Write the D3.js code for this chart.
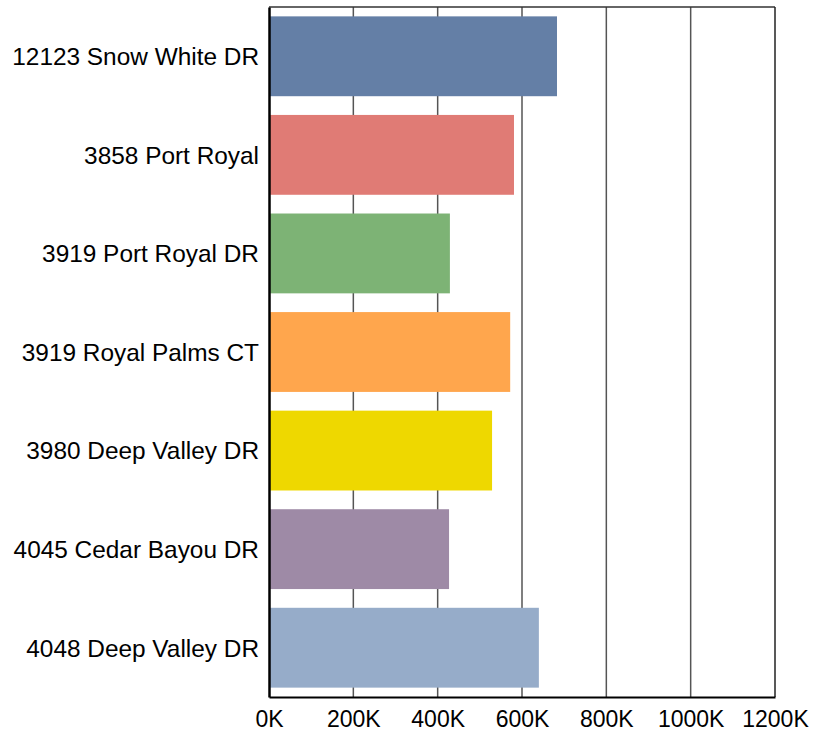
<!DOCTYPE html>
<html>
<head>
<meta charset="utf-8">
<script src="https://cdn.jsdelivr.net/npm/d3@7"></script>
<style>
  html, body { margin: 0; padding: 0; background: #fff; overflow: hidden; }
  svg { display: block; font-family: "Liberation Sans", Arial, sans-serif; }
</style>
</head>
<body>
<svg id="chart" width="821" height="731"></svg>
<script>
// Property addresses and their values (in thousands)
const addresses = [
  "12123 Snow White DR",
  "3858 Port Royal",
  "3919 Port Royal DR",
  "3919 Royal Palms CT",
  "3980 Deep Valley DR",
  "4045 Cedar Bayou DR",
  "4048 Deep Valley DR"
];
const values = [683, 581, 429, 572, 529, 427, 640];
const barColors = ["#647fa6", "#e07b75", "#7db375", "#ffa64d", "#eed800", "#9e8aa6", "#96acc9"];
const xTicks = [0, 200, 400, 600, 800, 1000, 1200];

const margin = { top: 7, right: 46, bottom: 34, left: 269 };
const width = 821, height = 731;
const innerW = width - margin.left - margin.right;
const innerH = height - margin.top - margin.bottom;

const svg = d3.select("#chart");
const g = svg.append("g").attr("transform", `translate(${margin.left},${margin.top})`);

const x = d3.scaleLinear().domain([0, 1200]).range([0, innerW]);
const y = d3.scaleBand().domain(addresses).range([0, innerH])
  .paddingInner(0.19).paddingOuter(0.095);

// vertical gridlines
g.append("g")
  .selectAll("line")
  .data(xTicks.slice(1, -1))
  .join("line")
  .attr("x1", d => x(d)).attr("x2", d => x(d))
  .attr("y1", 0).attr("y2", innerH)
  .attr("stroke", "#555").attr("stroke-width", 1.5);

// bars
g.append("g")
  .selectAll("rect")
  .data(addresses)
  .join("rect")
  .attr("x", 0)
  .attr("y", d => y(d))
  .attr("width", (d, i) => x(values[i]))
  .attr("height", y.bandwidth())
  .attr("fill", (d, i) => barColors[i]);

// frame: top and right borders
g.append("line").attr("x1", 0).attr("x2", innerW).attr("y1", 0).attr("y2", 0)
  .attr("stroke", "#333").attr("stroke-width", 1.5);
g.append("line").attr("x1", innerW).attr("x2", innerW).attr("y1", 0).attr("y2", innerH)
  .attr("stroke", "#222").attr("stroke-width", 1.5);

// x axis
const xAxis = g.append("g")
  .attr("transform", `translate(0,${innerH})`)
  .call(d3.axisBottom(x).tickValues(xTicks).tickFormat(d => d + "K").tickSize(0).tickPadding(14));
xAxis.select(".domain").attr("stroke", "#000").attr("stroke-width", 2);
xAxis.selectAll("text").attr("font-size", 23).attr("fill", "#000");

// y axis
const yAxis = g.append("g")
  .call(d3.axisLeft(y).tickSize(0).tickPadding(10));
yAxis.select(".domain").attr("stroke", "#000").attr("stroke-width", 2.5);
yAxis.selectAll("text").attr("font-size", 24.4).attr("fill", "#000").attr("dy", "0.36em");
</script>
</body>
</html>
